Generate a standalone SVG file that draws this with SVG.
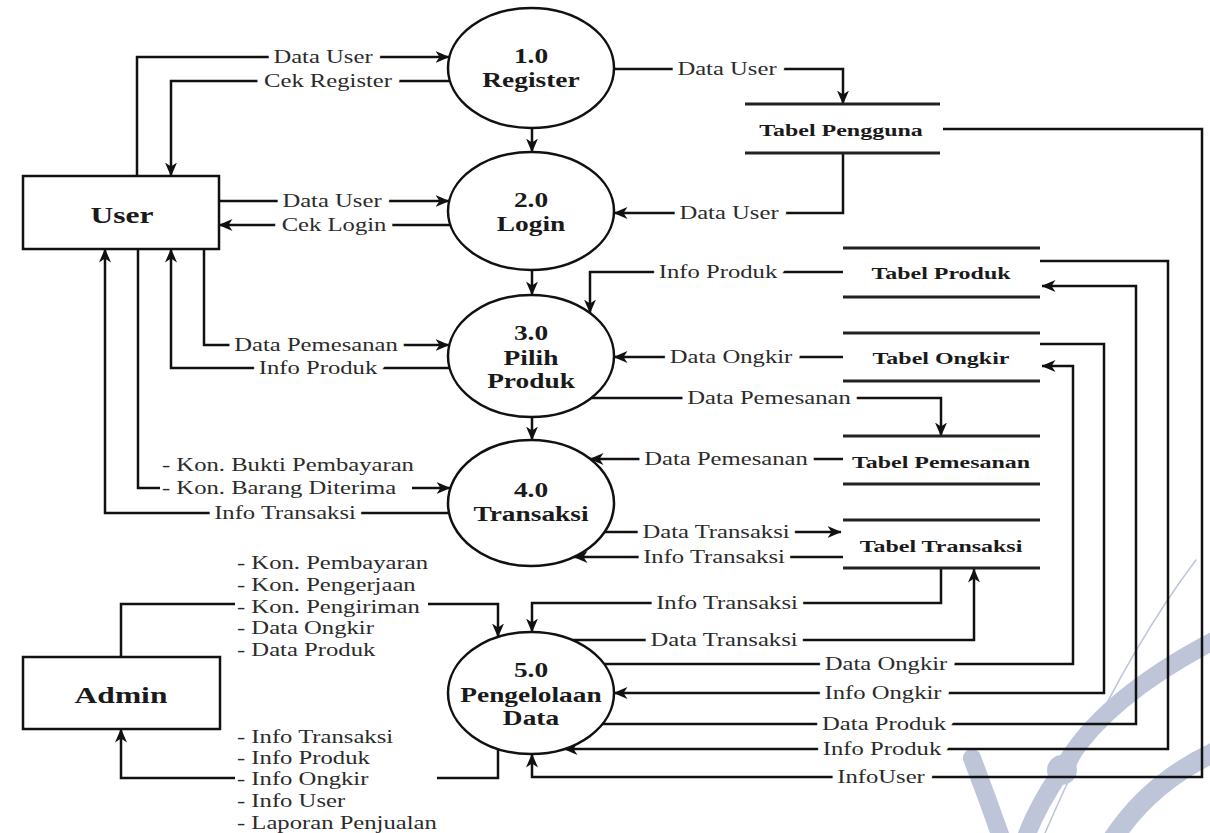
<svg xmlns="http://www.w3.org/2000/svg" width="1210" height="833" viewBox="0 0 1210 833">
<defs>
<marker id="arr" markerUnits="userSpaceOnUse" markerWidth="14" markerHeight="12" viewBox="0 0 14 12" refX="13.5" refY="6" orient="auto">
<path d="M0,0 L14,6 L0,12 L4,6 z" fill="#111"/>
</marker>
<style>
.ln{fill:none;stroke:#111;stroke-width:2.5}
.shape{fill:#fff;stroke:#111;stroke-width:2.5}
.store{stroke:#222;stroke-width:3}
.lbl{font-family:"Liberation Serif","Times New Roman",serif;font-size:18px;fill:#2b2b2b;text-anchor:middle;stroke:#fff;stroke-width:11px;stroke-linejoin:round;paint-order:stroke}
.lst{font-family:"Liberation Serif","Times New Roman",serif;font-size:18px;fill:#2b2b2b}
.pt{font-family:"Liberation Serif","Times New Roman",serif;font-size:20px;font-weight:bold;fill:#1a1a1a;text-anchor:middle}
.st{font-family:"Liberation Serif","Times New Roman",serif;font-size:17.5px;font-weight:bold;fill:#1a1a1a;text-anchor:middle}
.en{font-family:"Liberation Serif","Times New Roman",serif;font-size:23px;font-weight:bold;fill:#1a1a1a;text-anchor:middle}
</style>
</defs>
<rect width="1210" height="833" fill="#fff"/>
<g id="watermark" fill="none" stroke="#b3bcd3" stroke-linecap="round" opacity="0.85">
<path d="M1196,560 Q1120,660 1045,833" stroke-width="1.5"/>
<path d="M1215,640 Q1100,700 1062,770 Q1035,810 1025,840" stroke-width="18"/>
<path d="M972,758 Q988,800 1002,840" stroke-width="18"/>
<path d="M1215,752 Q1150,782 1112,840" stroke-width="20"/>
<circle cx="1062" cy="770" r="15" fill="#b3bcd3" stroke="none"/>
</g>
<g id="connectors">
<path class="ln" d="M137,176 V57 H449" marker-end="url(#arr)"/>
<path class="ln" d="M450,81 H171 V176" marker-end="url(#arr)"/>
<path class="ln" d="M219,201 H449" marker-end="url(#arr)"/>
<path class="ln" d="M450,225 H219" marker-end="url(#arr)"/>
<path class="ln" d="M532,128 V152" marker-end="url(#arr)"/>
<path class="ln" d="M532,270 V295" marker-end="url(#arr)"/>
<path class="ln" d="M532,417 V440" marker-end="url(#arr)"/>
<path class="ln" d="M204,249 V345 H449" marker-end="url(#arr)"/>
<path class="ln" d="M450,368 H171 V249" marker-end="url(#arr)"/>
<path class="ln" d="M138,249 V488 H160"/>
<path class="ln" d="M412,488 H450" marker-end="url(#arr)"/>
<path class="ln" d="M449,513 H105 V249" marker-end="url(#arr)"/>
<path class="ln" d="M614,69 H843 V104" marker-end="url(#arr)"/>
<path class="ln" d="M843,153 V213 H614" marker-end="url(#arr)"/>
<path class="ln" d="M843,272 H590 V313" marker-end="url(#arr)"/>
<path class="ln" d="M843,357 H614" marker-end="url(#arr)"/>
<path class="ln" d="M591,398 H941 V436" marker-end="url(#arr)"/>
<path class="ln" d="M843,459 H590" marker-end="url(#arr)"/>
<path class="ln" d="M605,532 H841" marker-end="url(#arr)"/>
<path class="ln" d="M843,557 H574" marker-end="url(#arr)"/>
<path class="ln" d="M941,568 V603 H532 V632" marker-end="url(#arr)"/>
<path class="ln" d="M572,640 H974 V569" marker-end="url(#arr)"/>
<path class="ln" d="M604,664 H1073 V366 H1042" marker-end="url(#arr)"/>
<path class="ln" d="M1040,344 H1104 V693 H614" marker-end="url(#arr)"/>
<path class="ln" d="M602,724 H1136 V286 H1042" marker-end="url(#arr)"/>
<path class="ln" d="M1040,261 H1168 V749 H564" marker-end="url(#arr)"/>
<path class="ln" d="M943,129 H1202 V777 H532 V754" marker-end="url(#arr)"/>
<path class="ln" d="M121,657 V604 H235"/>
<path class="ln" d="M428,604 H498 V637" marker-end="url(#arr)"/>
<path class="ln" d="M498,749 V778 H437"/>
<path class="ln" d="M235,778 H121 V729" marker-end="url(#arr)"/>
</g>
<g id="labels">
<text class="lbl" transform="translate(323,63) scale(1.37,1)">Data User</text>
<text class="lbl" transform="translate(328,87) scale(1.37,1)">Cek Register</text>
<text class="lbl" transform="translate(332,207) scale(1.37,1)">Data User</text>
<text class="lbl" transform="translate(334,231) scale(1.37,1)">Cek Login</text>
<text class="lbl" transform="translate(316,351) scale(1.37,1)">Data Pemesanan</text>
<text class="lbl" transform="translate(318,374) scale(1.37,1)">Info Produk</text>
<text class="lst" transform="translate(162,471) scale(1.37,1)">- Kon. Bukti Pembayaran</text>
<text class="lst" transform="translate(162,494) scale(1.37,1)">- Kon. Barang Diterima</text>
<text class="lbl" transform="translate(285,519) scale(1.37,1)">Info Transaksi</text>
<text class="lbl" transform="translate(727,75) scale(1.37,1)">Data User</text>
<text class="lbl" transform="translate(729,219) scale(1.37,1)">Data User</text>
<text class="lbl" transform="translate(718,278) scale(1.37,1)">Info Produk</text>
<text class="lbl" transform="translate(731,363) scale(1.37,1)">Data Ongkir</text>
<text class="lbl" transform="translate(769,404) scale(1.37,1)">Data Pemesanan</text>
<text class="lbl" transform="translate(726,465) scale(1.37,1)">Data Pemesanan</text>
<text class="lbl" transform="translate(716,538) scale(1.37,1)">Data Transaksi</text>
<text class="lbl" transform="translate(714,563) scale(1.37,1)">Info Transaksi</text>
<text class="lbl" transform="translate(727,609) scale(1.37,1)">Info Transaksi</text>
<text class="lbl" transform="translate(724,646) scale(1.37,1)">Data Transaksi</text>
<text class="lbl" transform="translate(886,670) scale(1.37,1)">Data Ongkir</text>
<text class="lbl" transform="translate(883,699) scale(1.37,1)">Info Ongkir</text>
<text class="lbl" transform="translate(884,730) scale(1.37,1)">Data Produk</text>
<text class="lbl" transform="translate(882,755) scale(1.37,1)">Info Produk</text>
<text class="lbl" transform="translate(881,783) scale(1.37,1)">InfoUser</text>
<text class="lst" transform="translate(237,569) scale(1.37,1)">- Kon. Pembayaran</text>
<text class="lst" transform="translate(237,591) scale(1.37,1)">- Kon. Pengerjaan</text>
<text class="lst" transform="translate(237,613) scale(1.37,1)">- Kon. Pengiriman</text>
<text class="lst" transform="translate(237,634) scale(1.37,1)">- Data Ongkir</text>
<text class="lst" transform="translate(237,656) scale(1.37,1)">- Data Produk</text>
<text class="lst" transform="translate(237,743) scale(1.37,1)">- Info Transaksi</text>
<text class="lst" transform="translate(237,764) scale(1.37,1)">- Info Produk</text>
<text class="lst" transform="translate(237,785) scale(1.37,1)">- Info Ongkir</text>
<text class="lst" transform="translate(237,807) scale(1.37,1)">- Info User</text>
<text class="lst" transform="translate(237,829) scale(1.37,1)">- Laporan Penjualan</text>
</g>
<g id="user">
<rect class="shape" x="23" y="176" width="196" height="73"/>
<text class="en" transform="translate(122,223) scale(1.37,1)">User</text>
</g>
<g id="admin">
<rect class="shape" x="23" y="657" width="197" height="72"/>
<text class="en" transform="translate(121,703) scale(1.37,1)">Admin</text>
</g>
<g id="p1">
<ellipse class="shape" cx="531" cy="68" rx="83" ry="60"/>
<text class="pt" transform="translate(531,63) scale(1.37,1)">1.0</text>
<text class="pt" transform="translate(531,87) scale(1.37,1)">Register</text>
</g>
<g id="p2">
<ellipse class="shape" cx="531" cy="211" rx="83" ry="59"/>
<text class="pt" transform="translate(531,207) scale(1.37,1)">2.0</text>
<text class="pt" transform="translate(531,231) scale(1.37,1)">Login</text>
</g>
<g id="p3">
<ellipse class="shape" cx="531" cy="356" rx="83" ry="61"/>
<text class="pt" transform="translate(531,340) scale(1.37,1)">3.0</text>
<text class="pt" transform="translate(531,365) scale(1.37,1)">Pilih</text>
<text class="pt" transform="translate(531,388) scale(1.37,1)">Produk</text>
</g>
<g id="p4">
<ellipse class="shape" cx="531" cy="503" rx="83" ry="63"/>
<text class="pt" transform="translate(531,497) scale(1.37,1)">4.0</text>
<text class="pt" transform="translate(531,521) scale(1.37,1)">Transaksi</text>
</g>
<g id="p5">
<ellipse class="shape" cx="531" cy="693" rx="83" ry="61"/>
<text class="pt" transform="translate(531,677) scale(1.37,1)">5.0</text>
<text class="pt" transform="translate(531,702) scale(1.37,1)">Pengelolaan</text>
<text class="pt" transform="translate(531,725) scale(1.37,1)">Data</text>
</g>
<g id="s-pengguna">
<path class="store" d="M745,104 H940 M745,153 H940"/>
<text class="st" transform="translate(841,136) scale(1.37,1)">Tabel Pengguna</text>
</g>
<g id="s-produk">
<path class="store" d="M843,248 H1040 M843,297 H1040"/>
<text class="st" transform="translate(941,279) scale(1.37,1)">Tabel Produk</text>
</g>
<g id="s-ongkir">
<path class="store" d="M843,333 H1040 M843,381 H1040"/>
<text class="st" transform="translate(941,364) scale(1.37,1)">Tabel Ongkir</text>
</g>
<g id="s-pemesanan">
<path class="store" d="M843,436 H1040 M843,484 H1040"/>
<text class="st" transform="translate(941,468) scale(1.37,1)">Tabel Pemesanan</text>
</g>
<g id="s-transaksi">
<path class="store" d="M843,520 H1040 M843,568 H1040"/>
<text class="st" transform="translate(941,552) scale(1.37,1)">Tabel Transaksi</text>
</g>
</svg>
